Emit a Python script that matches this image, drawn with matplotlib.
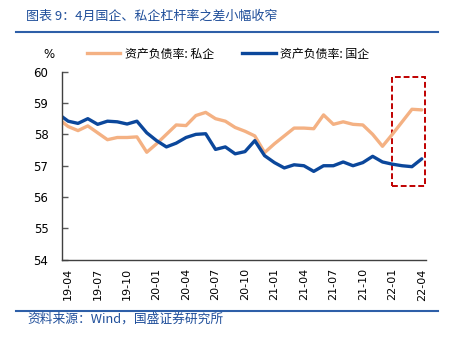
import matplotlib
matplotlib.use('Agg')
import matplotlib.pyplot as plt
from matplotlib.lines import Line2D
from matplotlib.patches import Rectangle
import pandas as pd

plt.rcParams['font.family'] = ['Noto Sans CJK SC', 'DejaVu Sans']
plt.rcParams['axes.unicode_minus'] = False

# 月度资产负债率(%), 19-03 ~ 22-04
months = pd.period_range('2019-03', '2022-04', freq='M').strftime('%y-%m').tolist()
private = [58.50, 58.25, 58.12, 58.27, 58.05, 57.83, 57.90, 57.90, 57.92, 57.43,
           57.70, 58.00, 58.30, 58.28, 58.60, 58.70, 58.50, 58.42, 58.22, 58.10,
           57.95, 57.42, 57.70, 57.95, 58.20, 58.20, 58.18, 58.62, 58.32, 58.40,
           58.32, 58.30, 58.00, 57.62, 58.00, 58.40, 58.80, 58.78]
state = [58.65, 58.42, 58.35, 58.50, 58.32, 58.42, 58.40, 58.33, 58.42, 58.05,
         57.80, 57.60, 57.72, 57.90, 58.00, 58.02, 57.52, 57.60, 57.38, 57.45,
         57.80, 57.32, 57.10, 56.93, 57.03, 57.00, 56.82, 57.00, 57.00, 57.12,
         57.00, 57.10, 57.30, 57.12, 57.05, 57.00, 56.97, 57.22]
tick_every = 3
first_tick = 1          # 19-04
box_start, box_end = 33.93, 37.32   # 21-12 底 ~ 22-04
box_low, box_high = 56.36, 59.83

ORANGE = '#F4B183'
BLUE = '#0B479B'
TITLE_BLUE = '#1F4E9A'

x = list(range(len(months)))

fig = plt.figure(figsize=(4.5, 3.46), dpi=100)
ax = fig.add_axes([0.1384, 0.249, 0.8076, 0.544])

ax.plot(x, private, color=ORANGE, lw=2.4, solid_joinstyle='round', solid_capstyle='round')
ax.plot(x, state, color=BLUE, lw=2.4, solid_joinstyle='round', solid_capstyle='round')

ax.add_patch(Rectangle((box_start, box_low), box_end - box_start, box_high - box_low,
                       fill=False, ec='#C00000', lw=1.4, ls=(0, (3, 1.5)), clip_on=False))

ax.set_xlim(0.4, 37.4)
ax.set_ylim(54, 60)
ax.set_yticks(range(54, 61))
ax.set_xticks(x[first_tick::tick_every])
ax.set_xticklabels(months[first_tick::tick_every], rotation=90, family='DejaVu Sans', fontsize=8)
ax.tick_params(axis='x', length=0, pad=6)
ax.tick_params(axis='y', direction='in', length=4, width=1, color='#595959', pad=10, labelsize=8.5)
for lab in ax.get_yticklabels():
    lab.set_family('DejaVu Sans')
for s in ['top', 'right']:
    ax.spines[s].set_visible(False)
for s in ['left', 'bottom']:
    ax.spines[s].set_color('#404040')
    ax.spines[s].set_linewidth(1)

# 标题与来源
fig.text(26 / 450, 1 - 16 / 346, '图表 9：4月国企、私企杠杆率之差小幅收窄', color=TITLE_BLUE,
         fontsize=9.4, style='italic', va='center', ha='left')
fig.add_artist(Line2D([16 / 450, 438 / 450], [1 - 32.3 / 346] * 2, color='#2E5FA8', lw=1.5))
fig.add_artist(Line2D([16 / 450, 438 / 450], [1 - 310.7 / 346] * 2, color='#2E5FA8', lw=1.5))
fig.text(27 / 450, 1 - 319.5 / 346, '资料来源：Wind，国盛证券研究所', color=TITLE_BLUE,
         fontsize=9.2, style='italic', va='center', ha='left')

# 图例
fig.text(43 / 450, 1 - 54 / 346, '%', fontsize=8.5, va='center', ha='left', family='DejaVu Sans')
handles = [Line2D([], [], color=ORANGE, lw=2.4), Line2D([], [], color=BLUE, lw=2.4)]
fig.legend(handles, ['资产负债率: 私企', '资产负债率: 国企'], loc='center left',
           bbox_to_anchor=(87 / 450, 1 - 54 / 346), ncol=2, frameon=False, fontsize=8.6,
           borderpad=0, borderaxespad=0, handlelength=2.8, handletextpad=0.35, columnspacing=2.4)

plt.savefig('out.png', dpi=100)
plt.close()
